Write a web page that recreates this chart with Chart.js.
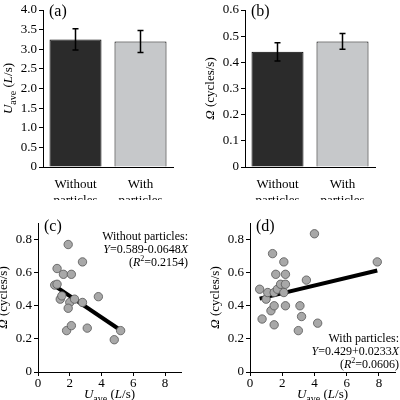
<!DOCTYPE html><html><head><script src="https://cdn.jsdelivr.net/npm/chart.js"></script>
<style>body{margin:0;background:#fff}canvas{position:absolute}</style></head><body>
<canvas id="a" style="left:0;top:0" width="200" height="200"></canvas>
<canvas id="b" style="left:200px;top:0" width="200" height="200"></canvas>
<canvas id="c" style="left:0;top:200px" width="200" height="200"></canvas>
<canvas id="d" style="left:200px;top:200px" width="200" height="200"></canvas>
<script>
const categories=[["Without","particles"],["With","particles"]];
const uaveMeans=[3.25,3.2], uaveErr=[0.27,0.28];
const omegaMeans=[0.44,0.48], omegaErr=[0.035,0.03];
const cX=[1.05,1.2,1.2,1.9,1.6,2.1,2.8,1.4,1.5,2.0,2.3,2.8,1.9,3.8,1.8,2.1,3.1,4.8,5.2];
const cY=[0.525,0.53,0.625,0.77,0.59,0.59,0.665,0.44,0.46,0.42,0.44,0.42,0.385,0.455,0.25,0.28,0.265,0.195,0.25];
const dX=[0.6,0.75,1.0,1.1,1.3,1.4,1.5,1.5,1.6,1.5,1.7,1.9,2.1,2.1,2.2,2.2,2.2,3.0,3.1,3.2,3.5,4.0,4.2,7.9];
const dY=[0.5,0.32,0.44,0.48,0.37,0.715,0.4,0.285,0.59,0.48,0.5,0.53,0.665,0.48,0.59,0.53,0.4,0.25,0.4,0.335,0.555,0.835,0.295,0.665];
const fitC={a:0.589,b:-0.0648,x0:1.1,x1:5.2}, fitD={a:0.429,b:0.0233,x0:0.6,x1:7.9};
Chart.defaults.font.family="Liberation Serif";Chart.defaults.font.size=13;Chart.defaults.color="#000";
Chart.defaults.animation=false;Chart.defaults.responsive=false;
function seg(ctx,x,y,parts){ // parts: [text,italic,size,dy]
  let cx=x;for(const p of parts){ctx.font=(p[1]?"italic ":"")+(p[2]||13)+"px Liberation Serif";ctx.fillText(p[0],cx,y+(p[3]||0));cx+=ctx.measureText(p[0]).width;}return cx-x;}
function width(ctx,parts){let w=0;for(const p of parts){ctx.font=(p[1]?"italic ":"")+(p[2]||13)+"px Liberation Serif";w+=ctx.measureText(p[0]).width;}return w;}
const uParts=[["U",1],["ave",0,10,4],[" (",0],["L",1],["/s)",0]];
const oParts=[["Ω",1],[" (cycles/s)",0]];
function deco(label,yParts,xParts,texts,err){return {id:'deco',afterDraw(ch){const c=ch.ctx,a=ch.chartArea;c.save();c.fillStyle="#000";c.textBaseline="alphabetic";
  if(err){const ds=ch.getDatasetMeta(0);c.strokeStyle="#000";c.lineWidth=1.5;ds.data.forEach((el,i)=>{const v=ch.data.datasets[0].data[i];const y1=ch.scales.y.getPixelForValue(v+err[i]),y2=ch.scales.y.getPixelForValue(v-err[i]);c.beginPath();c.moveTo(el.x,y1);c.lineTo(el.x,y2);c.moveTo(el.x-3,y1);c.lineTo(el.x+3,y1);c.moveTo(el.x-3,y2);c.lineTo(el.x+3,y2);c.stroke();});}
  c.font="16px Liberation Serif";c.fillText(label,a.left+6,a.top+(texts?8:6));
  c.save();c.translate(a.left-31,(a.top+a.bottom)/2+width(c,yParts)/2);c.rotate(-Math.PI/2);seg(c,0,0,yParts);c.restore();
  if(xParts){seg(c,(a.left+a.right)/2-width(c,xParts)/2,a.bottom+26,xParts);}
  if(texts)for(const t of texts){const w=width(c,t.p);seg(c,t.x-w,t.y,t.p);}
  c.restore();}};}
function grid(){return {drawOnChartArea:false,drawTicks:true,tickLength:4,color:"#000"};}
function bar(id,vals,err,ymax,step,label,yParts,padR){
  new Chart(document.getElementById(id),{type:'bar',data:{labels:categories,datasets:[{data:vals,backgroundColor:["#2b2b2b","#c6c8ca"],borderColor:"#000",borderWidth:1,barPercentage:0.8,categoryPercentage:1}]},
  options:{plugins:{legend:{display:false},tooltip:{enabled:false}},layout:{padding:{top:10,right:padR,left:0,bottom:0}},
  scales:{x:{grid:{display:false},border:{color:"#000"},ticks:{padding:2,font:{size:13}},afterFit(s){s.height=33}},
  y:{min:0,max:ymax,ticks:{stepSize:step,padding:2},grid:grid(),border:{color:"#000"},afterFit(s){s.width=id=='a'?43:45}}}},plugins:[deco(label,yParts,null,null,err)]});}
bar('a',uaveMeans,uaveErr,4,0.5,'(a)',uParts,27);
bar('b',omegaMeans,omegaErr,0.6,0.1,'(b)',oParts,25);
function sc(id,X,Y,fit,label,texts,left,padR){
  new Chart(document.getElementById(id),{type:'scatter',data:{datasets:[
   {data:X.map((x,i)=>({x,y:Y[i]})),pointRadius:4.2,backgroundColor:"#a8a8a8",borderColor:"#555",borderWidth:0.8},
   {type:'line',data:[{x:fit.x0,y:fit.a+fit.b*fit.x0},{x:fit.x1,y:fit.a+fit.b*fit.x1}],borderColor:"#000",borderWidth:4,pointRadius:0}]},
  options:{plugins:{legend:{display:false},tooltip:{enabled:false}},layout:{padding:{top:23,right:padR,left:0,bottom:0}},
  scales:{x:{type:'linear',min:0,max:9,afterBuildTicks(s){s.ticks=[0,2,4,6,8].map(v=>({value:v}))},grid:grid(),border:{color:"#000"},ticks:{padding:0},afterFit(s){s.height=28}},
  y:{min:0,max:0.9,afterBuildTicks(s){s.ticks=[0,0.2,0.4,0.6,0.8].map(v=>({value:v}))},ticks:{padding:2},grid:grid(),border:{color:"#000"},afterFit(s){s.width=left}}}},
  plugins:[deco(label,oParts,uParts,texts)]});}
sc('c',cX,cY,fitC,'(c)',[{x:188,y:40,p:[["Without particles:",0,12]]},{x:188,y:53,p:[["Y",1,12],["=0.589-0.0648",0,12],["X",1,12]]},{x:188,y:66,p:[["(",0,12],["R",1,12],["2",0,8,-5],["=0.2154)",0,12]]}],38,19);
sc('d',dX,dY,fitD,'(d)',[{x:199,y:142,p:[["With particles:",0,12]]},{x:199,y:155,p:[["Y",1,12],["=0.429+0.0233",0,12],["X",1,12]]},{x:199,y:168,p:[["(",0,12],["R",1,12],["2",0,8,-5],["=0.0606)",0,12]]}],50,1);
</script></body></html>
